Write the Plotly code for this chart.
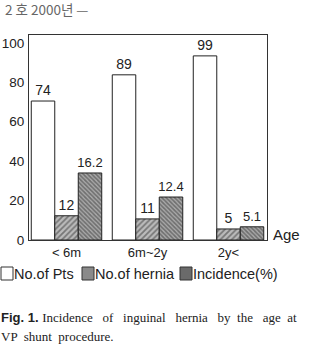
import plotly.graph_objects as go

# Data
age_groups = ["< 6m", "6m~2y", "2y<"]
pts_labels = [74, 89, 99]
hernia_labels = [12, 11, 5]
incidence_labels = [16.2, 12.4, 5.1]
pts_heights = [70.5, 83.8, 93.4]
hernia_heights = [12.3, 10.7, 5.6]
incidence_heights = [34.0, 21.8, 6.7]
y_ticks = [0, 20, 40, 60, 80, 100]

x = list(range(len(age_groups)))
lab_font = dict(family="Liberation Sans, Arial", size=14, color="#222")

fig = go.Figure()
fig.add_trace(go.Bar(
    x=x, y=pts_heights, name="No.of Pts",
    text=[str(v) for v in pts_labels], textposition="outside",
    textfont=lab_font, cliponaxis=False, constraintext="none",
    marker=dict(color="white", line=dict(color="#222", width=1)),
))
fig.add_trace(go.Bar(
    x=x, y=hernia_heights, name="No.of hernia",
    text=[str(v) for v in hernia_labels], textposition="outside",
    textfont=lab_font, cliponaxis=False, constraintext="none",
    marker=dict(color="#999", line=dict(color="#222", width=1),
                pattern=dict(shape="/", size=4, solidity=0.45,
                             fgcolor="#333", bgcolor="#bbb")),
))
fig.add_trace(go.Bar(
    x=x, y=incidence_heights, name="Incidence(%)",
    text=[str(v) for v in incidence_labels], textposition="outside",
    textfont=dict(family="Liberation Sans, Arial", size=13, color="#222"),
    cliponaxis=False, constraintext="none",
    marker=dict(color="#777", line=dict(color="#222", width=1),
                pattern=dict(shape="\\", size=3, solidity=0.55,
                             fgcolor="#333", bgcolor="#aaa")),
))

fig.update_layout(
    width=313, height=355,
    margin=dict(l=29, r=46, t=35, b=115, autoexpand=False),
    paper_bgcolor="white", plot_bgcolor="white",
    barmode="group", bargap=0.13, bargroupgap=0,
    showlegend=False,
    font=dict(family="Liberation Sans, Arial", color="#222"),
)
fig.update_xaxes(
    range=[-0.463, 2.475], tickvals=x, ticktext=age_groups,
    tickfont=dict(size=13), showgrid=False, ticks="", automargin=False,
    showline=True, linecolor="#333", linewidth=1, mirror=True,
    zeroline=False,
)
fig.update_yaxes(
    range=[0, 104], tickvals=y_ticks, tickfont=dict(size=13.5),
    showgrid=False, ticks="", ticklabelstandoff=1, automargin=False,
    showline=True, linecolor="#333", linewidth=1, mirror=True,
    zeroline=False,
)

# "Age" axis label
fig.add_annotation(text="Age", xref="paper", yref="paper", x=1.015, y=0.025,
                   xanchor="left", yanchor="middle", showarrow=False,
                   font=dict(size=15, color="#222"))

px_w, px_h = 238, 205
def px(xp, yp):
    return ((xp - 29) / px_w, (240 - yp) / px_h)

# Header
hx, hy = px(3, 9)
fig.add_annotation(text="2 호 2000년 —", xref="paper", yref="paper",
                   x=hx, y=hy, xanchor="left", yanchor="middle",
                   showarrow=False,
                   font=dict(family="Noto Sans CJK KR", size=13.5, color="#666"))

# Manual legend
legend_items = [
    (0, "No.of Pts", "white"),
    (81, "No.of hernia", "#8a8a8a"),
    (179, "Incidence(%)", "#6a6a6a"),
]
for lx, ltxt, lcol in legend_items:
    x0, y0 = px(lx + 1, 267)
    x1, y1 = px(lx + 13, 280)
    fig.add_shape(type="rect", xref="paper", yref="paper",
                  x0=x0, y0=y0, x1=x1, y1=y1,
                  fillcolor=lcol, line=dict(color="#333", width=1))
    tx, ty = px(lx + 12, 274)
    fig.add_annotation(text=ltxt, xref="paper", yref="paper", x=tx, y=ty,
                       xanchor="left", yanchor="middle", showarrow=False,
                       font=dict(size=14.5, color="#222"))

# Caption
cx, cy = px(-1, 317)
fig.add_annotation(
    text="<b>Fig. 1.</b> <span style='font-family:Liberation Serif'>Incidence   of   inguinal   hernia   by  the   age  at</span>",
    xref="paper", yref="paper", x=cx, y=cy, xanchor="left", yanchor="middle",
    showarrow=False, font=dict(size=13, color="#222"))
cx2, cy2 = px(-1, 336)
fig.add_annotation(
    text="VP  shunt  procedure.",
    xref="paper", yref="paper", x=cx2, y=cy2, xanchor="left", yanchor="middle",
    showarrow=False, font=dict(family="Liberation Serif", size=13, color="#222"))

fig.write_html("out.html")
